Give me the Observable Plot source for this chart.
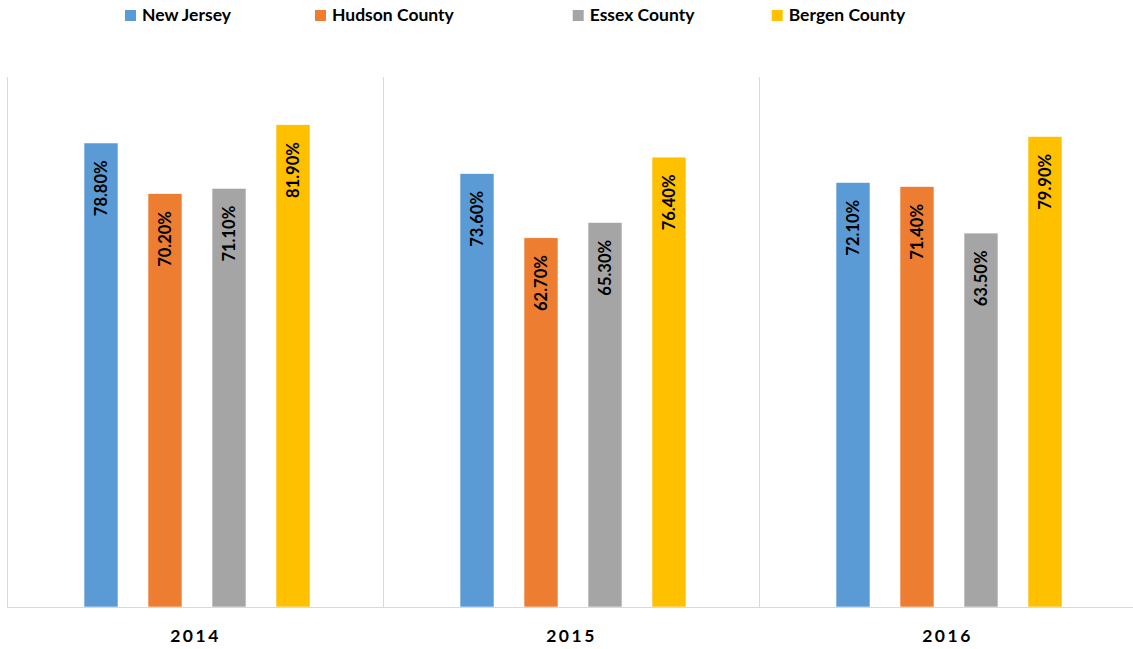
<!DOCTYPE html>
<html>
<head>
<meta charset="utf-8">
<script src="https://cdn.jsdelivr.net/npm/d3@7"></script>
<script src="https://cdn.jsdelivr.net/npm/@observablehq/plot@0.6"></script>
<style>
  html, body { margin: 0; padding: 0; background: #fff; overflow: hidden; }
  #legend { display: block; }
  #chart svg { max-width: none !important; display: block; }
  #chart svg [aria-label="fx-axis tick label"] text,
  #chart svg g[aria-label="fx-axis tick label"] { letter-spacing: 2.5px; }
</style>
</head>
<body>
<div id="legend"></div>
<div id="chart"></div>
<script>
// ---- data ----
const years = ["2014", "2015", "2016"];
const series = ["New Jersey", "Hudson County", "Essex County", "Bergen County"];
const newJersey = [78.8, 73.6, 72.1];
const hudsonCounty = [70.2, 62.7, 71.4];
const essexCounty = [71.1, 65.3, 63.5];
const bergenCounty = [81.9, 76.4, 79.9];
const colors = ["#5B9BD5", "#ED7D31", "#A5A5A5", "#FFC000"];

const valuesBySeries = [newJersey, hudsonCounty, essexCounty, bergenCounty];
const data = [];
years.forEach((yr, i) => {
  series.forEach((s, j) => {
    data.push({year: yr, series: s, value: valuesBySeries[j][i]});
  });
});

// ---- legend ----
const legendX = [125, 315, 572.7, 771.7];
const lg = d3.select("#legend").append("svg")
  .attr("width", 1133).attr("height", 28)
  .style("display", "block");
series.forEach((s, j) => {
  const g = lg.append("g").attr("transform", `translate(${legendX[j]},0)`);
  g.append("rect").attr("x", 0).attr("y", 10).attr("width", 11).attr("height", 11).attr("fill", colors[j]);
  g.append("text").attr("x", 17).attr("y", 20.5)
    .attr("font-family", "Lato, 'Open Sans', sans-serif")
    .attr("font-weight", "bold").attr("font-size", 17.5)
    .attr("fill", "#000").text(s);
});

// ---- chart ----
const chart = Plot.plot({
  width: 1136,
  height: 621,
  marginLeft: 7,
  marginRight: 1,
  marginTop: 49,
  marginBottom: 42,
  style: {fontFamily: "Lato, 'Open Sans', sans-serif", fontWeight: "bold", fontSize: "17.5px", color: "#000", background: "#fff"},
  fx: {domain: years, padding: 0, label: null, axis: "bottom", tickSize: 0, tickPadding: 22},
  x: {domain: series, paddingInner: 0.47, paddingOuter: 1.17, align: 0.51, axis: null},
  y: {domain: [0, 90], axis: null},
  color: {domain: series, range: colors},
  marks: [
    Plot.frame({anchor: "left", stroke: "#d9d9d9", strokeOpacity: 1}),
    Plot.barY(data, {fx: "year", x: "series", y: "value", fill: "series", stroke: "#ffffff", strokeWidth: 0.6}),
    Plot.ruleY([0], {stroke: "#d9d9d9", strokeWidth: 1}),
    Plot.text(data, {
      fx: "year", x: "series", y: "value",
      text: d => d.value.toFixed(2) + "%",
      rotate: -90, textAnchor: "end", lineAnchor: "middle",
      dy: 17, fontSize: 16.5, fontWeight: "bold", fill: "#000"
    })
  ]
});
chart.style.maxWidth = "none";
document.getElementById("chart").appendChild(chart);
</script>
</body>
</html>
